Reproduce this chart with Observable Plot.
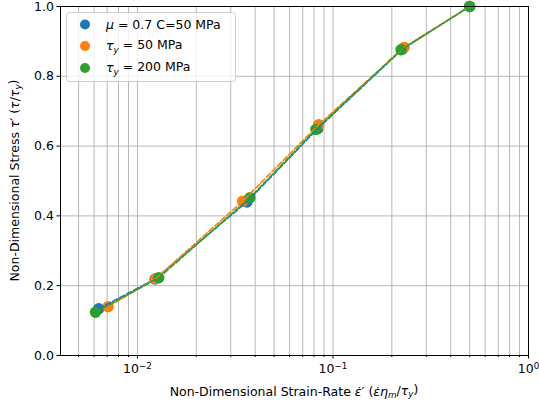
<!DOCTYPE html>
<html>
<head>
<meta charset="utf-8">
<script src="https://cdn.jsdelivr.net/npm/d3@7"></script>
<script src="https://cdn.jsdelivr.net/npm/@observablehq/plot@0.6"></script>
<style>
  html, body { margin: 0; padding: 0; background: #fff; }
  svg { display: block; }
</style>
</head>
<body>
<div id="chart"></div>
<script>
// ---- data ----
const seriesNames = ["mu", "ty50", "ty200"];
const muX   = [0.00634, 0.0123, 0.0363, 0.0835, 0.227, 0.5];
const muY   = [0.134, 0.219, 0.440, 0.650, 0.878, 1.0];
const ty50X = [0.00708, 0.0124, 0.0345, 0.0845, 0.2316, 0.5];
const ty50Y = [0.140, 0.220, 0.442, 0.661, 0.883, 1.0];
const ty200X = [0.0061, 0.01285, 0.0376, 0.0818, 0.2228, 0.5];
const ty200Y = [0.124, 0.2226, 0.452, 0.648, 0.876, 1.0];
const colors = ["#1f77b4", "#ff7f0e", "#2ca02c"];

const xMajorTicks = [0.01, 0.1, 1];
const xMajorBase = ["10", "10", "10"];
const xMajorExp = ["−2", "−1", "0"];
const xMinorTicks = [0.005, 0.006, 0.007, 0.008, 0.009,
                     0.02, 0.03, 0.04, 0.05, 0.06, 0.07, 0.08, 0.09,
                     0.2, 0.3, 0.4, 0.5, 0.6, 0.7, 0.8, 0.9];
const yTicks = [0, 0.2, 0.4, 0.6, 0.8, 1.0];
const xDomain = [0.00404, 1];
const yDomain = [0, 1];

const rows = [];
[[muX, muY], [ty50X, ty50Y], [ty200X, ty200Y]].forEach(([xs, ys], i) => {
  xs.forEach((x, j) => rows.push({series: seriesNames[i], x, y: ys[j]}));
});

const FONT = "DejaVu Sans, sans-serif";
const FS = 12.5;

const svg = Plot.plot({
  width: 539,
  height: 409,
  marginLeft: 60,
  marginRight: 11,
  marginTop: 6,
  marginBottom: 54,
  style: {fontFamily: FONT, fontSize: FS + "px", color: "#000", background: "#fff"},
  x: {type: "log", domain: xDomain},
  y: {domain: yDomain},
  color: {domain: seriesNames, range: colors},
  marks: [
    Plot.ruleX(xMajorTicks.concat(xMinorTicks).filter(d => d < 1), {stroke: "#b0b0b0", strokeWidth: 0.9}),
    Plot.ruleY(yTicks.filter(d => d > 0 && d < 1), {stroke: "#b0b0b0", strokeWidth: 0.9}),
    Plot.dot(rows, {x: "x", y: "y", fill: "series", r: 5.7, stroke: "none"}),
    Plot.line(rows, {x: "x", y: "y", z: "series", stroke: "series", strokeWidth: 1.6, strokeDasharray: "5.5,2.4"}),
    Plot.frame({stroke: "#000", strokeWidth: 1}),
    Plot.axisX({ticks: xMinorTicks, tickSize: 2, tickFormat: () => "", label: null}),
    Plot.axisX({ticks: xMajorTicks, tickSize: 3.5, tickPadding: 5, tickFormat: d => "10^" + xMajorTicks.indexOf(d), label: null, fontSize: FS}),
    Plot.axisY({ticks: yTicks, tickSize: 3.5, tickPadding: 3, tickFormat: d3.format(".1f"), label: null, fontSize: FS})
  ]
});

const s = d3.select(svg);
s.attr("font-size", FS + "px");

// rewrite the x tick labels as 10 with a raised exponent
s.selectAll("text").each(function() {
  const txt = this.textContent;
  if (/^10\^\d$/.test(txt)) {
    const k = +txt.slice(3);
    const el = d3.select(this);
    el.text("");
    el.append("tspan").text(xMajorBase[k]);
    el.append("tspan").attr("font-size", (FS * 0.7) + "px").attr("dy", "-0.45em").text(xMajorExp[k]);
  }
});

function richText(g, parts) {
  parts.forEach(p => {
    const t = g.append("tspan").text(p.t);
    if (p.i) t.attr("font-style", "italic");
    if (p.sub) t.attr("font-size", (FS * 0.7) + "px").attr("dy", "0.25em");
    if (p.after) t.attr("dy", "-0.25em");
  });
}

// x-axis label
const xl = s.append("text")
  .attr("x", 294).attr("y", 396)
  .attr("text-anchor", "middle")
  .attr("font-family", FONT).attr("font-size", FS + "px").attr("fill", "#000");
richText(xl, [
  {t: "Non-Dimensional Strain-Rate "}, {t: "ε̇", i: 1}, {t: "′ ("},
  {t: "ε̇η", i: 1}, {t: "m", i: 1, sub: 1}, {t: "/", after: 1},
  {t: "τ", i: 1}, {t: "y", i: 1, sub: 1}, {t: ")", after: 1}
]);

// y-axis label
const yl = s.append("text")
  .attr("transform", "translate(19,180.5) rotate(-90)")
  .attr("text-anchor", "middle")
  .attr("font-family", FONT).attr("font-size", FS + "px").attr("fill", "#000");
richText(yl, [
  {t: "Non-Dimensional Stress "}, {t: "τ", i: 1}, {t: "′ ("},
  {t: "τ", i: 1}, {t: "/"}, {t: "τ", i: 1}, {t: "y", i: 1, sub: 1}, {t: ")", after: 1}
]);

// legend
const lg = s.append("g");
lg.append("rect")
  .attr("x", 66.5).attr("y", 12.5).attr("width", 169).attr("height", 69).attr("rx", 3)
  .attr("fill", "#fff").attr("fill-opacity", 0.8).attr("stroke", "#cccccc");
const legendParts = [
  [{t: "μ", i: 1}, {t: " = 0.7 C=50 MPa"}],
  [{t: "τ", i: 1}, {t: "y", i: 1, sub: 1}, {t: " = 50 MPa", after: 1}],
  [{t: "τ", i: 1}, {t: "y", i: 1, sub: 1}, {t: " = 200 MPa", after: 1}]
];
const legendY = [24.5, 46, 68];
legendParts.forEach((parts, i) => {
  lg.append("circle").attr("cx", 85).attr("cy", legendY[i]).attr("r", 5).attr("fill", colors[i]);
  const t = lg.append("text")
    .attr("x", 106).attr("y", legendY[i]).attr("dy", "0.35em")
    .attr("text-anchor", "start")
    .attr("font-family", FONT).attr("font-size", FS + "px").attr("fill", "#000");
  richText(t, parts);
});

document.getElementById("chart").appendChild(svg);
</script>
</body>
</html>
